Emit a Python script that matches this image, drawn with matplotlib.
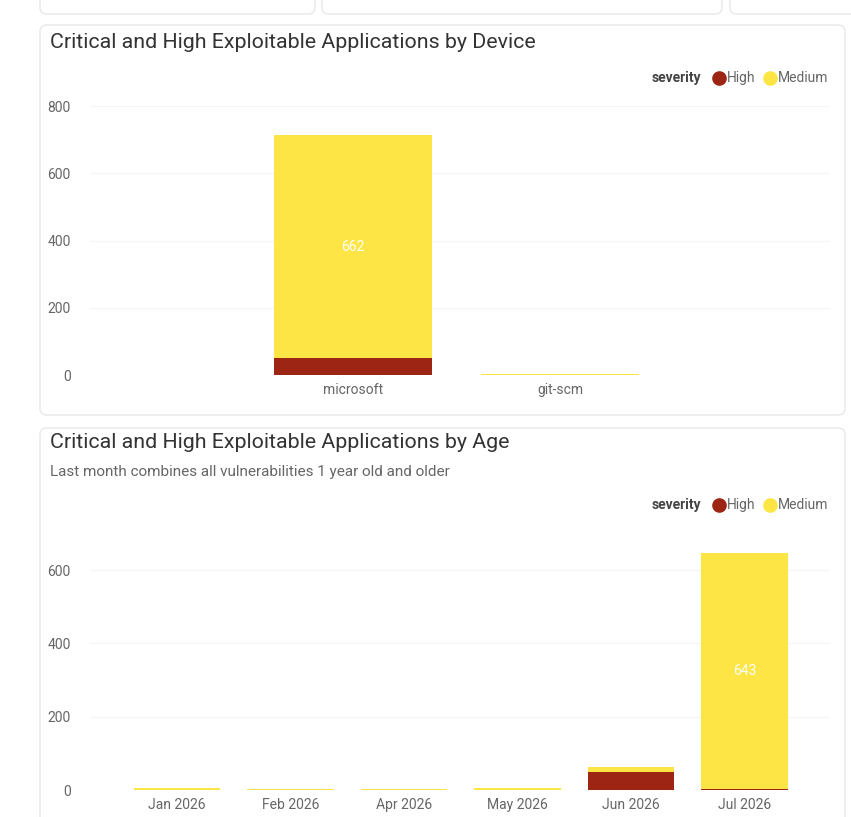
import matplotlib.pyplot as plt
from matplotlib.patches import FancyBboxPatch
from matplotlib.lines import Line2D
import numpy as np

# data
devices = ['microsoft', 'git-scm']
device_high = [51, 0]
device_medium = [662, 2]

months = ['Jan 2026', 'Feb 2026', 'Apr 2026', 'May 2026', 'Jun 2026', 'Jul 2026']
month_high = [0, 0, 0, 1, 50, 3]
month_medium = [6, 2, 4, 5, 14, 643]

series = ['High', 'Medium']
high_color = '#9c2513'
medium_color = '#fde545'
font = ['Roboto', 'DejaVu Sans']

W, H = 851, 817
fig = plt.figure(figsize=(W / 100, H / 100), dpi=100)
fig.patch.set_facecolor('white')


def fx(x):
    return x / W


def fy(y):
    return 1 - y / H


def card(x0, y0, x1, y1):
    p = FancyBboxPatch((fx(x0), fy(y1)), fx(x1) - fx(x0), fy(y0) - fy(y1),
                       boxstyle='round,pad=0,rounding_size=0.008',
                       transform=fig.transFigure, facecolor='white',
                       edgecolor='#e8e8e8', linewidth=1.0, zorder=-5)
    fig.patches.append(p)


# background cards
card(40, -20, 315, 14)
card(322, -20, 722, 14)
card(730, -20, 870, 14)
card(40, 25, 845, 415)
card(40, 428, 845, 840)


def stacked(ax, labels, high, medium, ymax, yticks, x_center0, spacing):
    x = np.arange(len(labels))
    width = 0.76
    ax.bar(x, high, width, color=high_color, zorder=2)
    ax.bar(x, medium, width, bottom=high, color=medium_color, zorder=2)
    for xi, h, m in zip(x, high, medium):
        if m > 100:
            ax.text(xi, h + m / 2, str(m), ha='center', va='center',
                    color='white', fontsize=10, family=font)
    left_px, right_px = 90, 830
    ax.set_xlim((left_px - x_center0) / spacing, (right_px - x_center0) / spacing)
    ax.set_ylim(0, ymax)
    ax.set_yticks(yticks)
    ax.set_xticks(x)
    ax.set_xticklabels(labels)
    ax.grid(axis='y', color='#f5f5f5', linewidth=0.8, zorder=0)
    for s in ax.spines.values():
        s.set_visible(False)
    ax.tick_params(length=0, colors='#666666', labelsize=10)
    ax.tick_params(axis='y', pad=14)
    ax.tick_params(axis='x', pad=6)
    for t in ax.get_xticklabels() + ax.get_yticklabels():
        t.set_family(font)
    ax.set_facecolor('none')


def legend(y):
    fig.text(fx(652), fy(y), 'severity', ha='left', va='center', fontsize=10,
             fontweight='bold', color='#444444', family=font)
    for name, col, mx in zip(series, [high_color, medium_color], [719, 770]):
        fig.add_artist(Line2D([fx(mx)], [fy(y)], marker='o', markersize=9.5,
                              linestyle='none', markerfacecolor=col,
                              markeredgecolor=col, transform=fig.transFigure))
        fig.text(fx(mx + 8), fy(y), name, ha='left', va='center', fontsize=10,
                 color='#666666', family=font)


# top chart
fig.text(fx(50), fy(42), 'Critical and High Exploitable Applications by Device',
         ha='left', va='center', fontsize=15.4, color='#333333', family=font)
legend(78)
ax1 = fig.add_axes([fx(90), fy(375), fx(830) - fx(90), (375 - 106) / H])
stacked(ax1, devices, device_high, device_medium, 800, [0, 200, 400, 600, 800], 353, 207)

# bottom chart
fig.text(fx(50), fy(443), 'Critical and High Exploitable Applications by Age',
         ha='left', va='center', fontsize=15.4, color='#333333', family=font)
fig.text(fx(50), fy(472), 'Last month combines all vulnerabilities 1 year old and older',
         ha='left', va='center', fontsize=11, color='#666666', family=font)
legend(505)
ax2 = fig.add_axes([fx(90), fy(790), fx(830) - fx(90), 700 * (73.33 / 200) / H])
stacked(ax2, months, month_high, month_medium, 700, [0, 200, 400, 600], 177, 113.5)

fig.savefig('out.png', dpi=100, facecolor='white')
